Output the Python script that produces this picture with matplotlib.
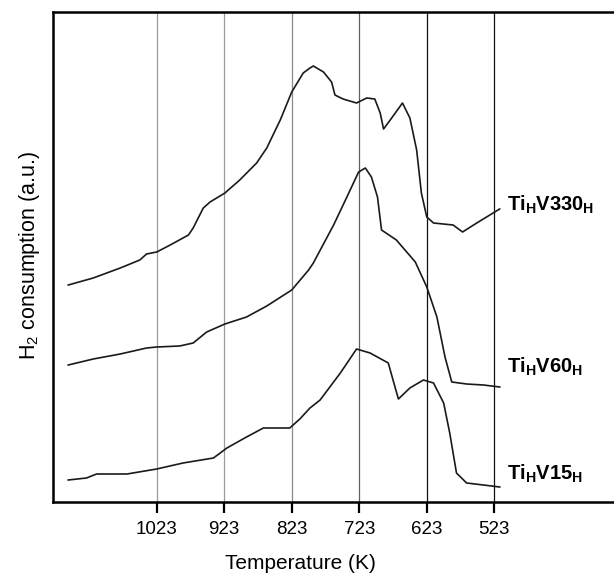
import matplotlib
matplotlib.use("Agg")
import matplotlib.pyplot as plt

plt.rcParams['font.family'] = ['Liberation Sans', 'DejaVu Sans']
plt.rcParams['mathtext.fontset'] = 'custom'
plt.rcParams['mathtext.rm'] = 'Liberation Sans'
plt.rcParams['mathtext.bf'] = 'Liberation Sans:bold'

# ---- data (temperature in K, H2 consumption in a.u.) ----
t_330 = [1154, 1117, 1077, 1048, 1038, 1023, 1003, 976, 969, 954, 944, 922, 900, 875,
         860, 840, 823, 806, 796, 791, 776, 764, 759, 747, 727, 712, 700, 692, 687,
         675, 659, 648, 638, 631, 623, 613, 584, 570, 549, 515]
y_330 = [21.7, 22.4, 23.4, 24.2, 24.8, 25.0, 25.7, 26.7, 27.4, 29.4, 30.0, 30.9, 32.2,
         33.9, 35.4, 38.2, 41.0, 42.9, 43.4, 43.6, 43.0, 42.0, 40.7, 40.3, 39.9, 40.4,
         40.3, 38.9, 37.3, 38.4, 39.9, 38.4, 35.2, 30.9, 28.5, 27.9, 27.7, 27.0, 27.9, 29.3]

t_60 = [1154, 1117, 1077, 1038, 1023, 989, 969, 949, 922, 890, 860, 823, 798, 791,
        761, 742, 724, 714, 705, 696, 690, 668, 640, 623, 608, 596, 586, 564, 539, 515]
y_60 = [13.7, 14.3, 14.8, 15.4, 15.5, 15.6, 15.9, 17.0, 17.8, 18.5, 19.6, 21.2, 23.2,
        23.9, 27.7, 30.4, 33.0, 33.4, 32.5, 30.5, 27.2, 26.2, 24.0, 21.5, 18.5, 14.5,
        12.0, 11.8, 11.7, 11.5]

t_15 = [1154, 1127, 1112, 1067, 1023, 984, 939, 919, 890, 865, 826, 811, 796, 781,
        751, 727, 707, 680, 673, 665, 648, 628, 613, 598, 589, 579, 564, 539, 515]
y_15 = [2.2, 2.4, 2.8, 2.8, 3.3, 3.9, 4.4, 5.4, 6.5, 7.4, 7.4, 8.3, 9.4, 10.2, 12.9,
        15.3, 14.9, 13.9, 12.2, 10.3, 11.4, 12.2, 11.9, 9.9, 6.9, 2.9, 1.9, 1.7, 1.5]

series_labels = [r'$\mathbf{Ti_HV330_H}$', r'$\mathbf{Ti_HV60_H}$', r'$\mathbf{Ti_HV15_H}$']
label_y = [29.7, 13.5, 2.8]
ticks = [1023, 923, 823, 723, 623, 523]
grid_colors = ['#9a9a9a', '#9a9a9a', '#8a8a8a', '#606060', '#111111', '#111111']

# ---- figure ----
fig = plt.figure(figsize=(6.14, 5.75), dpi=100)
ax = fig.add_axes([53/614, 73/575, 1 - 53/614, 490/575])

for t, c in zip(ticks, grid_colors):
    ax.axvline(t, color=c, lw=0.9, zorder=1)

for t, y in [(t_330, y_330), (t_60, y_60), (t_15, y_15)]:
    ax.plot(t, y, color='#1a1a1a', lw=1.2, zorder=3)

for lab, ly in zip(series_labels, label_y):
    ax.text(504, ly, lab, fontsize=14.5, ha='left', va='center')

ax.set_xlim(1176.6, 345.7)
ax.set_ylim(0, 49.0)
ax.set_xticks(ticks)
ax.set_xticklabels([str(t) for t in ticks], fontsize=13.5)
ax.set_yticks([])
ax.tick_params(axis='x', direction='out', length=8, width=1.6, pad=6)
for s in ['left', 'top', 'bottom']:
    ax.spines[s].set_linewidth(1.8)
ax.spines['right'].set_visible(False)

ax.set_xlabel('Temperature (K)', fontsize=15)
ax.xaxis.set_label_coords((300 - 53) / 561, -52 / 490)
ax.set_ylabel(r'H$_2$ consumption (a.u.)', fontsize=15.5)
ax.yaxis.set_label_coords(-(53 - 42) / 561, (502 - 255) / 490)

fig.savefig('out.png', dpi=100)
